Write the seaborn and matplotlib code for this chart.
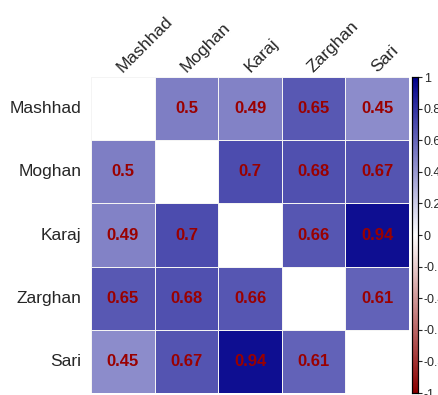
import numpy as np
import pandas as pd
import matplotlib
matplotlib.use("Agg")
import matplotlib.pyplot as plt
import matplotlib.transforms as mtransforms
from matplotlib.colors import LinearSegmentedColormap
import seaborn as sns

stations = ["Mashhad", "Moghan", "Karaj", "Zarghan", "Sari"]
mashhad = [np.nan, 0.5, 0.49, 0.65, 0.45]
moghan = [0.5, np.nan, 0.7, 0.68, 0.67]
karaj = [0.49, 0.7, np.nan, 0.66, 0.94]
zarghan = [0.65, 0.68, 0.66, np.nan, 0.61]
sari = [0.45, 0.67, 0.94, 0.61, np.nan]
cbar_ticks = [1, 0.8, 0.6, 0.4, 0.2, 0, -0.2, -0.4, -0.6, -0.8, -1]

corr = pd.DataFrame([mashhad, moghan, karaj, zarghan, sari],
                    index=stations, columns=stations)

sns.set_style("white")
plt.rcParams["font.family"] = ["Liberation Sans", "DejaVu Sans"]

cmap = LinearSegmentedColormap.from_list("rwb", ["#8B0000", "#FFFFFF", "#00008B"])

fig = plt.figure(figsize=(4.39, 3.95), dpi=100)
ax = fig.add_axes([0.2073, 0.005, 0.7244, 0.800])
cax = fig.add_axes([0.9385, 0.005, 0.0137, 0.800])

sns.heatmap(corr, ax=ax, cbar_ax=cax, cmap=cmap, vmin=-1, vmax=1,
            mask=corr.isna(), annot=True, fmt="g",
            annot_kws={"color": "#9A0000", "fontsize": 12, "fontweight": "bold"},
            linewidths=0.5, linecolor="#F4F4F4", square=False,
            cbar_kws={"ticks": cbar_ticks})

ax.xaxis.tick_top()
ax.set_xticklabels(stations, rotation=45, ha="left", va="baseline",
                   rotation_mode="anchor", fontsize=12.5)
shift = mtransforms.ScaledTranslation(4 / 72, 0, fig.dpi_scale_trans)
for lbl in ax.get_xticklabels():
    lbl.set_transform(lbl.get_transform() + shift)
ax.set_yticklabels(stations, rotation=0, fontsize=12.5)
ax.tick_params(axis="y", length=0, pad=7)
ax.tick_params(axis="x", length=0, pad=3)
ax.set_xlabel("")
ax.set_ylabel("")

cax.tick_params(labelsize=9, length=3, width=0.8, pad=1)
for s in cax.spines.values():
    s.set_visible(True)
    s.set_color("black")
    s.set_linewidth(0.8)
cax.yaxis.set_major_formatter(matplotlib.ticker.FuncFormatter(lambda v, p: f"{v:g}"))

fig.savefig("out.png", dpi=100)
